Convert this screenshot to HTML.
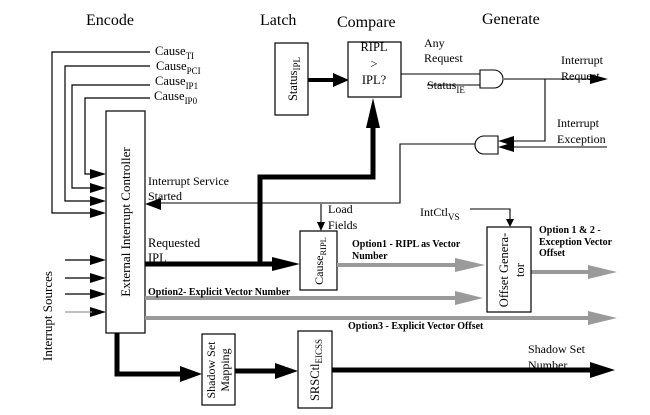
<!DOCTYPE html>
<html><head><meta charset="utf-8"><style>
html,body{margin:0;padding:0;background:#fff;}
svg{display:block;font-family:"Liberation Serif",serif;}
</style></head><body>
<svg width="650" height="415" viewBox="0 0 650 415" xmlns="http://www.w3.org/2000/svg">
<defs>
<marker id="a" markerWidth="10" markerHeight="8" refX="10" refY="4" orient="auto" markerUnits="userSpaceOnUse"><path d="M0,0L10,4L0,8z" fill="#000"/></marker>
<marker id="ab" markerWidth="14" markerHeight="12" refX="14" refY="6" orient="auto" markerUnits="userSpaceOnUse"><path d="M0,0L14,6L0,12z" fill="#000"/></marker>
</defs>
<g font-size="16" fill="#000">
<text x="86" y="25">Encode</text>
<text x="260" y="25">Latch</text>
<text x="337" y="27">Compare</text>
<text x="482" y="24">Generate</text>
</g>
<g fill="none" stroke="#000" stroke-width="1.2">
<!-- cause lines -->
<path d="M150,52H52V213H100"/><path d="M150,66H65V201H100"/><path d="M150,85H72V188H100"/><path d="M150,98H85V174H100"/>
</g>
<g fill="#000">
<path d="M90,169L106,174L90,179z"/><path d="M90,183L106,188L90,193z"/><path d="M90,196L106,201L90,206z"/><path d="M90,208L106,213L90,218z"/>
<path d="M90,255L106,260L90,265z"/><path d="M90,273L106,278L90,283z"/><path d="M90,289L106,294L90,299z"/><path d="M90,307L106,312L90,317z"/>
</g>
<g stroke="#000" stroke-width="1.2"><path d="M65,260H92M65,278H92M65,294H92"/><path d="M65,312H92" stroke="#999"/></g>
<g font-size="12.5">
<text x="155" y="55">Cause<tspan font-size="9" dy="4">TI</tspan></text>
<text x="156" y="70">Cause<tspan font-size="9" dy="4">PCI</tspan></text>
<text x="155" y="85">Cause<tspan font-size="9" dy="4">IP1</tspan></text>
<text x="154" y="100">Cause<tspan font-size="9" dy="4">IP0</tspan></text>
</g>
<!-- EIC box -->
<rect x="106" y="111" width="39" height="222" fill="#fff" stroke="#000" stroke-width="1.2"/>
<text transform="translate(130,222) rotate(-90)" text-anchor="middle" font-size="13">External Interrupt Controller</text>
<text transform="translate(52,316) rotate(-90)" text-anchor="middle" font-size="13">Interrupt Sources</text>
<!-- Status IPL -->
<rect x="275" y="43" width="33" height="72" fill="#fff" stroke="#000" stroke-width="1.2"/>
<text transform="translate(297,79) rotate(-90)" text-anchor="middle" font-size="12.5">Status<tspan font-size="9" dy="3">IPL</tspan></text>
<path d="M308,80H338" stroke="#000" stroke-width="4"/><path d="M333,73L349,80L333,87z"/>
<!-- RIPL box -->
<rect x="348" y="42" width="53" height="55" fill="#fff" stroke="#000" stroke-width="1.2"/>
<g font-size="12.5" text-anchor="middle"><text x="374" y="51">RIPL</text><text x="374" y="68">&gt;</text><text x="374" y="84">IPL?</text></g>
<!-- thick requested path -->
<path d="M145,264H280M260,264V177H373V120" fill="none" stroke="#000" stroke-width="5"/>
<path d="M366,128L373,98L380,128z"/>
<path d="M272,257L300,264L272,271z"/>
<g font-size="12.5"><text x="148" y="247">Requested</text><text x="148" y="262">IPL</text></g>
<!-- AND gates -->
<path d="M401,74H480M427,85H480M504,79H595M545,79V141H510M607,147H510M475,144H400V203H160" fill="none" stroke="#000" stroke-width="1.1"/>
<path d="M480,70H494A9,9 0 0 1 494,88H480Z" fill="#fff" stroke="#000" stroke-width="1.1"/>
<path d="M498,136H484A9,9 0 0 0 484,154H498Z" fill="#fff" stroke="#000" stroke-width="1.1"/>
<path d="M590,74L608,79L590,84z"/>
<path d="M514,136L498,141L514,146z"/><path d="M514,142L498,147L514,152z"/>
<path d="M161,198L145,204L161,210z"/>
<g font-size="12"><text x="424" y="47">Any</text><text x="424" y="62">Request</text>
<text x="427" y="89">Status<tspan font-size="9" dy="4">IE</tspan></text>
<text x="561" y="64">Interrupt</text><text x="561" y="80">Request</text>
<text x="557" y="127">Interrupt</text><text x="557" y="143">Exception</text>
<text x="148" y="185">Interrupt Service</text><text x="148" y="200">Started</text>
<text x="328" y="213">Load</text><text x="328" y="229">Fields</text>
<text x="420" y="216">IntCtl<tspan font-size="9" dy="4">VS</tspan></text>
<text x="528" y="353">Shadow Set</text><text x="528" y="369">Number</text></g>
<path d="M321,204V226" stroke="#000" stroke-width="1.1"/><path d="M317,222L321,231L325,222z"/>
<path d="M470,209H510V222" fill="none" stroke="#000" stroke-width="1.1"/><path d="M506,219L510,227L514,219z"/>
<!-- Cause RIPL -->
<rect x="300" y="231" width="37" height="59" fill="#fff" stroke="#000" stroke-width="1.2"/>
<text transform="translate(323,261) rotate(-90)" text-anchor="middle" font-size="12">Cause<tspan font-size="8.5" dy="3">RIPL</tspan></text>
<!-- gray arrows -->
<g stroke="#9a9a9a" stroke-width="4"><path d="M337,265H460M145,298H460M145,318H590M531,272H590"/></g>
<g fill="#9a9a9a"><path d="M455,258L485,265L455,272z"/><path d="M455,291L483,298L455,305z"/><path d="M588,311L617,318L588,325z"/><path d="M588,265L617,272L588,279z"/></g>
<g font-size="10" font-weight="bold">
<text x="352" y="247">Option1 - RIPL as Vector</text><text x="352" y="259">Number</text>
<text x="148" y="295">Option2- Explicit Vector Number</text>
<text x="348" y="329">Option3 - Explicit Vector Offset</text>
<text x="539" y="233">Option 1 &amp; 2 -</text><text x="539" y="245">Exception Vector</text><text x="539" y="256">Offset</text>
</g>
<!-- Offset generator -->
<rect x="487" y="227" width="44" height="85" fill="#fff" stroke="#000" stroke-width="1.2"/>
<text transform="translate(508,270) rotate(-90)" text-anchor="middle" font-size="12.5">Offset Genera-</text>
<text transform="translate(524,270) rotate(-90)" text-anchor="middle" font-size="12.5">tor</text>
<!-- shadow set -->
<path d="M117,333V374H185M235,371H282M332,370H600" fill="none" stroke="#000" stroke-width="5"/>
<path d="M180,366L202,374L180,382z"/><path d="M275,363L298,371L275,379z"/><path d="M590,362L615,370L590,378z"/>
<rect x="202" y="334" width="33" height="71" fill="#fff" stroke="#000" stroke-width="1.2"/>
<text transform="translate(215,370) rotate(-90)" text-anchor="middle" font-size="12">Shadow Set</text>
<text transform="translate(229,370) rotate(-90)" text-anchor="middle" font-size="12">Mapping</text>
<rect x="298" y="331" width="34" height="77" fill="#fff" stroke="#000" stroke-width="1.2"/>
<text transform="translate(319,370) rotate(-90)" text-anchor="middle" font-size="12.5">SRSCtl<tspan font-size="9" dy="3">EICSS</tspan></text>
</svg>
</body></html>
